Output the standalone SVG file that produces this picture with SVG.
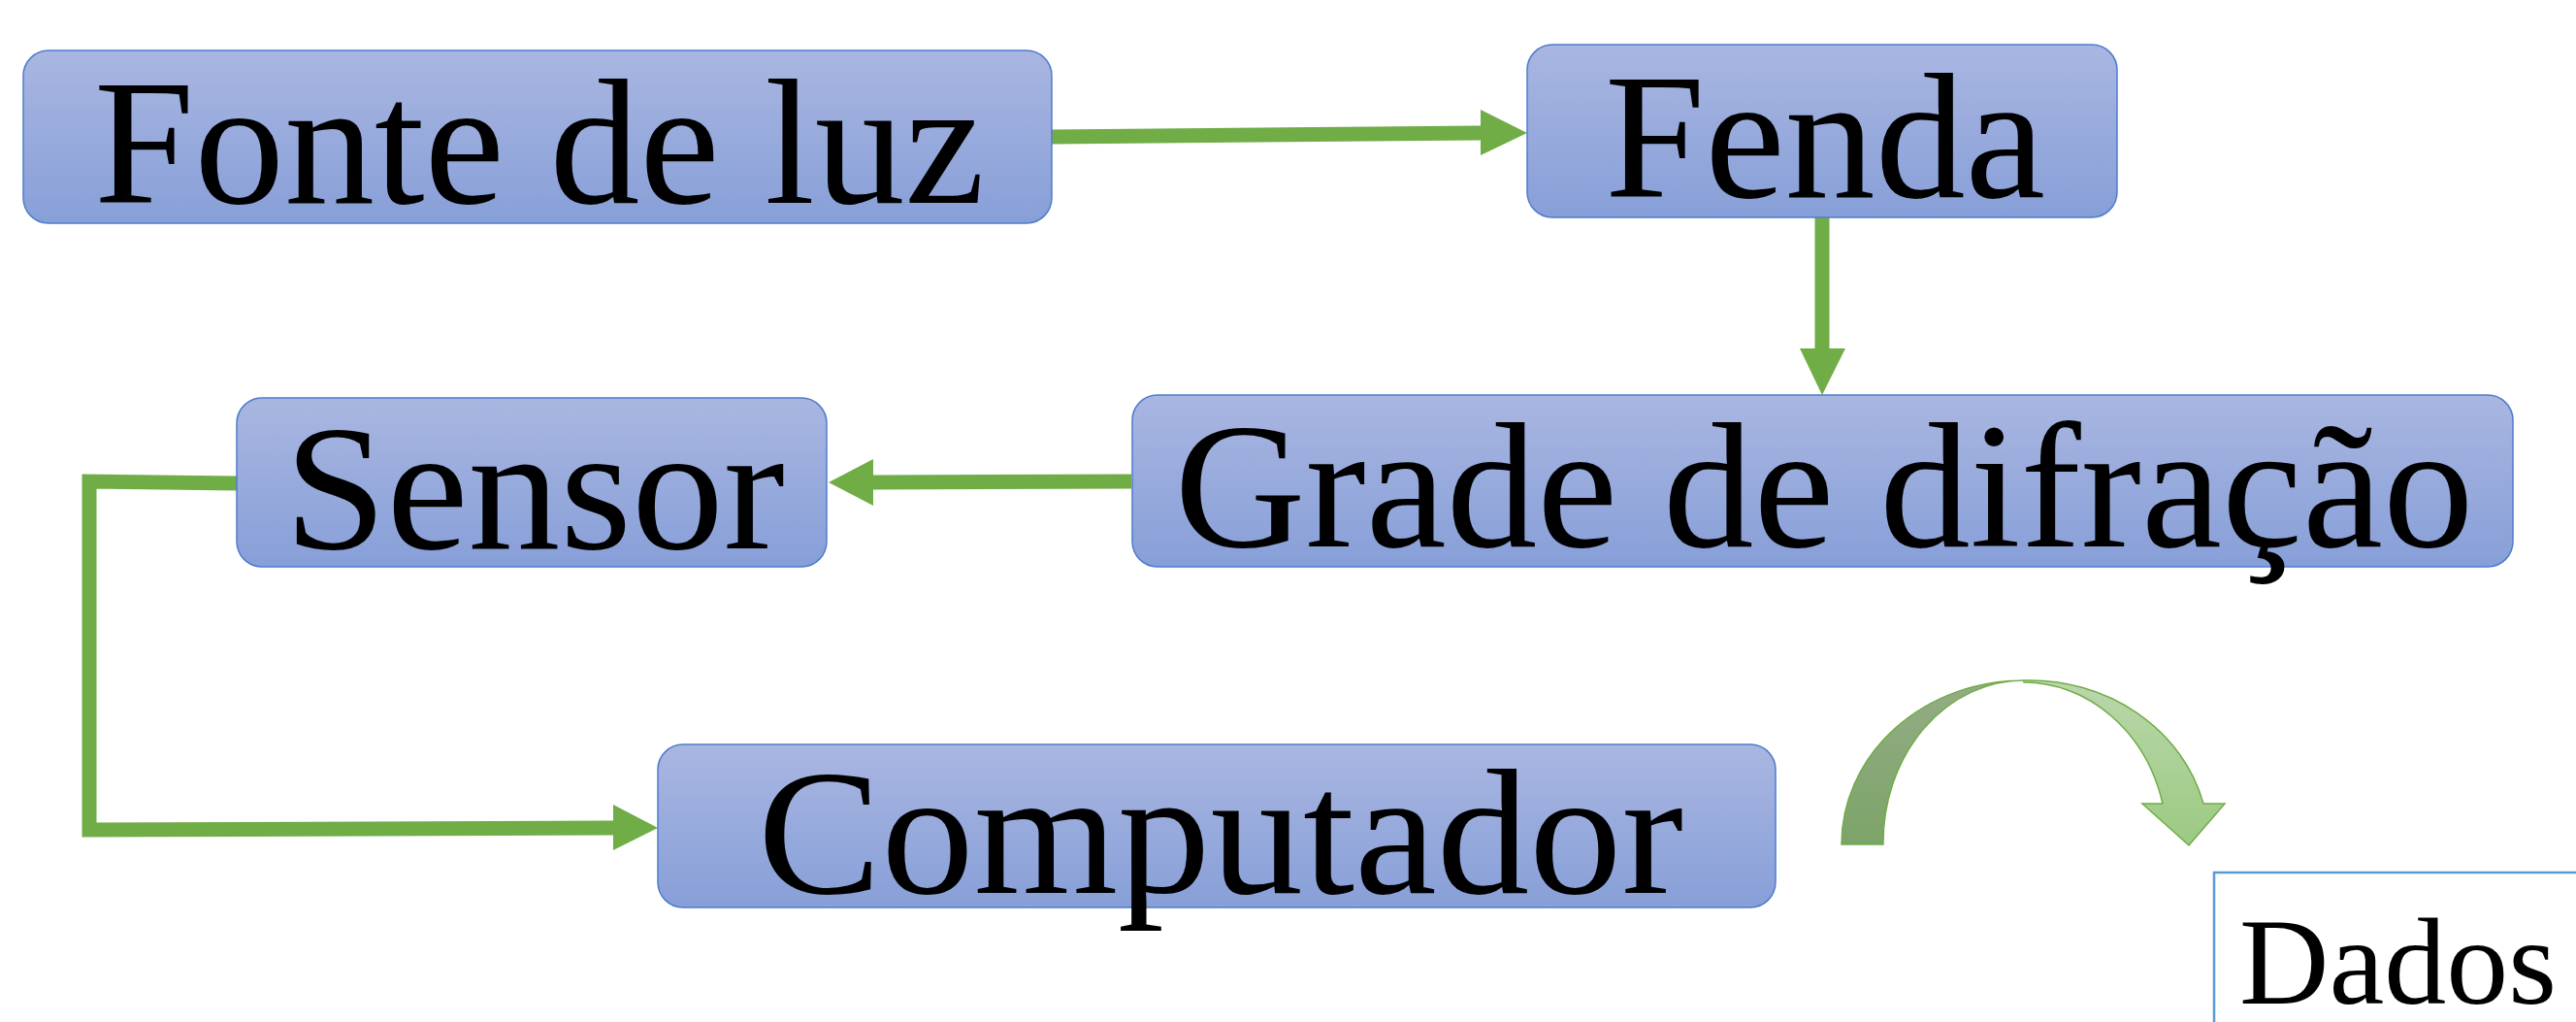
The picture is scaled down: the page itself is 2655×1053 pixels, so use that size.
<svg xmlns="http://www.w3.org/2000/svg" width="2655" height="1053" viewBox="0 0 2655 1053">
<defs>
<linearGradient id="boxg" x1="0" y1="0" x2="0" y2="1">
<stop offset="0" stop-color="#a9b6e1"/>
<stop offset="1" stop-color="#879fd8"/>
</linearGradient>
<linearGradient id="backg" x1="0" y1="0" x2="0" y2="1">
<stop offset="0" stop-color="#95ac86"/>
<stop offset="1" stop-color="#7ca469"/>
</linearGradient>
<linearGradient id="frontg" x1="0" y1="0" x2="0" y2="1">
<stop offset="0" stop-color="#bad7ab"/>
<stop offset="1" stop-color="#9bca82"/>
</linearGradient>
</defs>
<style>
.box{fill:url(#boxg);stroke:#4f7ccb;stroke-width:1.5}
.lbl{font-family:"Liberation Serif","DejaVu Serif",serif;font-size:184px;fill:#000;text-anchor:middle}
.con{fill:none;stroke:#70ad47;stroke-width:15;stroke-linejoin:miter;stroke-linecap:butt}
.head{fill:#70ad47}
</style>
<rect width="2655" height="1053" fill="#fff"/>

<g id="connectors">
<line class="con" x1="1084" y1="141" x2="1528" y2="137"/>
<polygon class="head" points="1526,113 1574,137 1526,160"/>
<line class="con" x1="1878" y1="224" x2="1878" y2="361"/>
<polygon class="head" points="1855,359 1902,359 1878,407"/>
<line class="con" x1="1166" y1="496" x2="898" y2="497"/>
<polygon class="head" points="900,473 854,497 900,521"/>
<polyline class="con" points="244,498 92,496 92,855 634,853"/>
<polygon class="head" points="632,829 678,853 632,876"/>
</g>

<g id="node-fonte">
<rect class="box" x="24" y="52" width="1060" height="178" rx="26"/>
<text class="lbl" x="556" y="209" textLength="918" lengthAdjust="spacingAndGlyphs">Fonte de luz</text>
</g>
<g id="node-fenda">
<rect class="box" x="1574" y="46" width="608" height="178" rx="26"/>
<text class="lbl" x="1881" y="203" textLength="454" lengthAdjust="spacingAndGlyphs">Fenda</text>
</g>
<g id="node-grade">
<rect class="box" x="1167" y="407" width="1423" height="177" rx="26"/>
<text class="lbl" x="1880" y="563" textLength="1339" lengthAdjust="spacingAndGlyphs">Grade de difração</text>
</g>
<g id="node-sensor">
<rect class="box" x="244" y="410" width="608" height="174" rx="26"/>
<text class="lbl" x="551" y="565" textLength="516" lengthAdjust="spacingAndGlyphs">Sensor</text>
</g>
<g id="node-computador">
<rect class="box" x="678" y="767" width="1152" height="168" rx="26"/>
<text class="lbl" x="1258" y="920" textLength="954" lengthAdjust="spacingAndGlyphs">Computador</text>
</g>

<g id="curved-arrow">
<path d="M1898,870 A188,169 0 0 1 2086,701 A145,167 0 0 0 1941,870 Z" fill="url(#backg)" stroke="#70ad47" stroke-width="1.5"/>
<path d="M2086,701 A185,169 0 0 1 2271,828 L2293,828 L2256,871 L2208,828 L2229,828 A148,167 0 0 0 2086,703 Z" fill="url(#frontg)" stroke="#70ad47" stroke-width="1.5"/>
</g>

<g id="node-dados">
<rect x="2282" y="899" width="500" height="300" fill="#fff" stroke="#5b9bd5" stroke-width="2.5"/>
<text x="2308" y="1034" font-family="'Liberation Serif','DejaVu Serif',serif" font-size="128" textLength="327" lengthAdjust="spacingAndGlyphs">Dados</text>
</g>
</svg>
